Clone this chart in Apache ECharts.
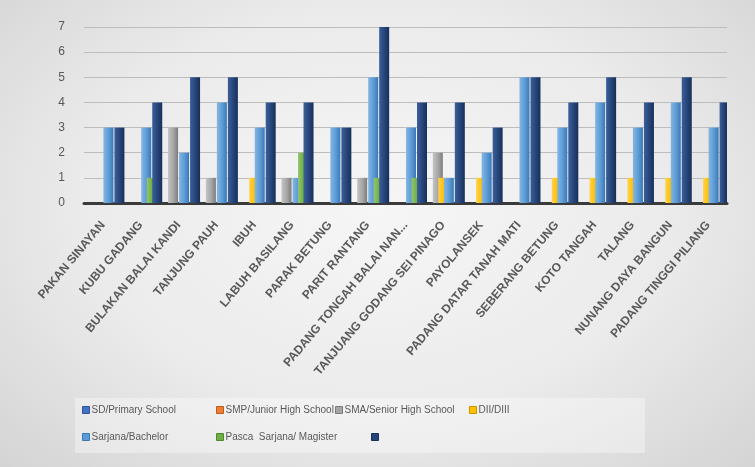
<!DOCTYPE html>
<html>
<head>
<meta charset="utf-8">
<script src="https://cdn.jsdelivr.net/npm/echarts@6/dist/echarts.min.js"></script>
<style>
html,body{margin:0;padding:0;}
body{width:755px;height:467px;overflow:hidden;background:radial-gradient(ellipse at 50% 45%, #f6f6f6 0%, #ebebeb 55%, #d4d4d4 100%);}
#c{width:755px;height:467px;}
</style>
</head>
<body>
<div id="c"></div>
<script>
var categories = ['PAKAN SINAYAN','KUBU GADANG','BULAKAN BALAI KANDI','TANJUNG PAUH','IBUH','LABUH BASILANG','PARAK BETUNG','PARIT RANTANG','PADANG TONGAH BALAI NAN...','TANJUANG GODANG SEI PINAGO','PAYOLANSEK','PADANG DATAR TANAH MATI','SEBERANG BETUNG','KOTO TANGAH','TALANG','NUNANG DAYA BANGUN','PADANG TINGGI PILIANG'];
var seriesNames = ['SD/Primary School','SMP/Junior High School','SMA/Senior High School','DII/DIII','Sarjana/Bachelor','Pasca  Sarjana/ Magister',' '];
var sdValues      = [0,0,0,0,0,0,0,0,0,0,0,0,0,0,0,0,0];
var smpValues     = [0,0,0,0,0,0,0,0,0,0,0,0,0,0,0,0,0];
var smaValues     = [0,0,3,1,0,1,0,1,0,2,0,0,0,0,0,0,0];
var diiValues     = [0,0,0,0,1,0,0,0,0,1,1,0,1,1,1,1,1];
var sarjanaValues = [3,3,2,4,3,1,3,5,3,1,2,5,3,4,3,4,3];
var pascaValues   = [0,1,0,0,0,2,0,1,1,0,0,0,0,0,0,0,0];
var otherValues   = [3,4,5,5,4,4,3,7,4,4,3,5,4,5,4,5,4];
var yTicks = [0,1,2,3,4,5,6,7];

var values = [sdValues, smpValues, smaValues, diiValues, sarjanaValues, pascaValues, otherValues];
var colors = ['#4472C4','#ED7D31','#A5A5A5','#FFC000','#5B9BD5','#70AD47','#264478'];
var darker = ['#2f5597','#b85d1e','#7b7b7b','#c79400','#3a78b5','#4e8a2c','#17305a'];
var lighter = ['#6d93d6','#f29b5e','#c4c4c4','#ffd24d','#84b6e3','#93c56f','#3b5f9b'];

function grad(i){
  return new echarts.graphic.LinearGradient(0,0,1,0,[
    {offset:0,color:lighter[i]},
    {offset:0.55,color:colors[i]},
    {offset:1,color:darker[i]}
  ]);
}

var series = values.map(function(v,i){
  return {
    name: seriesNames[i],
    type: 'bar',
    data: v,
    barWidth: 10,
    barGap: '-45%',
    itemStyle: {color: grad(i)},
    emphasis: {disabled: true}
  };
});

var legendFont = 'Liberation Sans, Arial, sans-serif';
var legendPos = [
  {left:82, top:405},
  {left:216, top:405},
  {left:335, top:405},
  {left:469, top:405},
  {left:82, top:432},
  {left:216, top:432},
  {left:371, top:432}
];
var legends = seriesNames.map(function(n,i){
  return {
    data: [{name:n, itemStyle:{color:colors[i], borderColor:darker[i], borderWidth:1}}],
    left: legendPos[i].left,
    top: legendPos[i].top,
    icon: 'rect',
    itemWidth: 7,
    itemHeight: 7,
    itemGap: 4,
    padding: 0,
    selectedMode: false,
    textStyle: {color:'#595959', fontSize:10, fontFamily:legendFont, padding:[0,0,0,-3]}
  };
});

var chart = echarts.init(document.getElementById('c'), null, {renderer:'canvas'});
chart.setOption({
  animation: false,
  backgroundColor: 'transparent',
  color: colors,
  graphic: [{
    type: 'rect',
    shape: {x:75, y:398, width:570, height:55},
    style: {fill:'rgba(255,255,255,0.35)'},
    z: -1
  }],
  legend: legends,
  grid: {left:84, right:28, top:27, bottom:264, containLabel:false},
  xAxis: {
    type: 'category',
    data: categories,
    axisLine: {show:true, lineStyle:{color:'#3a3a3a', width:3}},
    axisTick: {show:false},
    axisLabel: {
      interval: 0,
      rotate: 50,
      color: '#595959',
      fontSize: 12,
      fontWeight: 'bold',
      fontFamily: 'Liberation Sans, Arial, sans-serif',
      margin: 20
    }
  },
  yAxis: {
    type: 'value',
    min: 0,
    max: 7,
    interval: 1,
    axisLine: {show:false},
    axisTick: {show:false},
    splitLine: {show:true, lineStyle:{color:'#bdbdbd', width:1}},
    axisLabel: {
      color: '#595959',
      fontSize: 12,
      fontFamily: 'Liberation Sans, Arial, sans-serif',
      margin: 19,
      formatter: function(v){ return yTicks.indexOf(v) >= 0 ? String(v) : ''; }
    }
  },
  series: series
});
</script>
</body>
</html>
